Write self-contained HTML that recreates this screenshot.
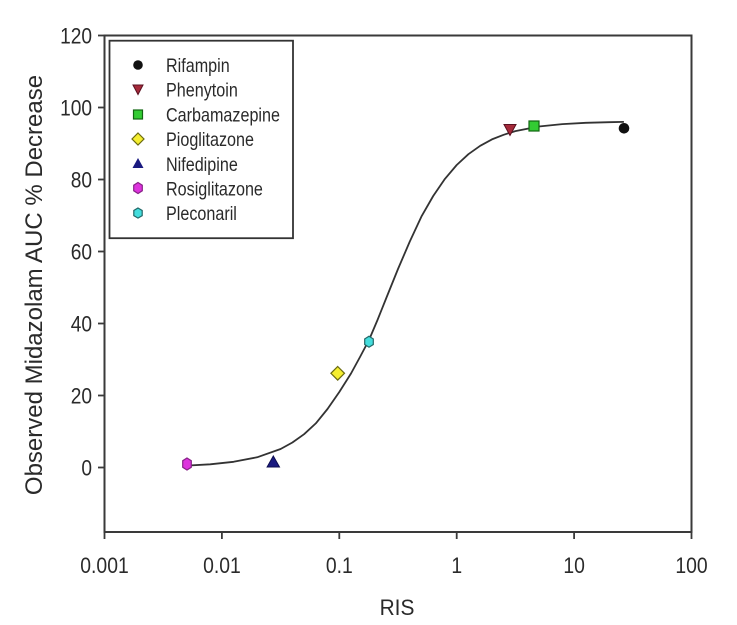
<!DOCTYPE html>
<html>
<head>
<meta charset="utf-8">
<style>
  html, body { margin: 0; padding: 0; background: #ffffff; }
  svg { display: block; }
  text { font-family: "Liberation Sans", Arial, sans-serif; fill: #2a2a2a; }
</style>
</head>
<body>
<svg width="737" height="625" viewBox="0 0 737 625" xmlns="http://www.w3.org/2000/svg">
  <rect x="0" y="0" width="737" height="625" fill="#ffffff"/>

  <!-- Plot frame -->
  <rect x="104.5" y="35.5" width="587" height="496.5" fill="none" stroke="#3a3a3a" stroke-width="2"/>

  <!-- Y ticks -->
  <g stroke="#3a3a3a" stroke-width="1.8">
    <line x1="98" y1="35.5" x2="104.5" y2="35.5"/>
    <line x1="98" y1="107.5" x2="104.5" y2="107.5"/>
    <line x1="98" y1="179.5" x2="104.5" y2="179.5"/>
    <line x1="98" y1="251.5" x2="104.5" y2="251.5"/>
    <line x1="98" y1="323.5" x2="104.5" y2="323.5"/>
    <line x1="98" y1="395.5" x2="104.5" y2="395.5"/>
    <line x1="98" y1="467.5" x2="104.5" y2="467.5"/>
  </g>
  <!-- X ticks -->
  <g stroke="#3a3a3a" stroke-width="1.8">
    <line x1="104.5" y1="532" x2="104.5" y2="539"/>
    <line x1="221.9" y1="532" x2="221.9" y2="539"/>
    <line x1="339.3" y1="532" x2="339.3" y2="539"/>
    <line x1="456.7" y1="532" x2="456.7" y2="539"/>
    <line x1="574.1" y1="532" x2="574.1" y2="539"/>
    <line x1="691.5" y1="532" x2="691.5" y2="539"/>
  </g>

  <!-- Y tick labels -->
  <g font-size="22" text-anchor="end">
    <text transform="translate(92,43.5) scale(0.87,1)">120</text>
    <text transform="translate(92,115.5) scale(0.87,1)">100</text>
    <text transform="translate(92,187.5) scale(0.87,1)">80</text>
    <text transform="translate(92,259.5) scale(0.87,1)">60</text>
    <text transform="translate(92,331.5) scale(0.87,1)">40</text>
    <text transform="translate(92,403.5) scale(0.87,1)">20</text>
    <text transform="translate(92,475.5) scale(0.87,1)">0</text>
  </g>

  <!-- X tick labels -->
  <g font-size="22" text-anchor="middle">
    <text transform="translate(104.5,573) scale(0.88,1)">0.001</text>
    <text transform="translate(221.9,573) scale(0.88,1)">0.01</text>
    <text transform="translate(339.3,573) scale(0.88,1)">0.1</text>
    <text transform="translate(456.7,573) scale(0.88,1)">1</text>
    <text transform="translate(574.1,573) scale(0.88,1)">10</text>
    <text transform="translate(691.5,573) scale(0.88,1)">100</text>
  </g>

  <!-- Axis titles -->
  <text transform="translate(397,615) scale(0.95,1)" font-size="22" text-anchor="middle">RIS</text>
  <text transform="translate(42,285) rotate(-90)" font-size="24" text-anchor="middle">Observed Midazolam AUC % Decrease</text>

  <!-- Fitted curve -->
  <polyline fill="none" stroke="#333333" stroke-width="1.8" stroke-linejoin="round"
    points="186.6,465.6 210.2,464.3 233.6,461.8 257.1,457.3 280.6,449.0 292.4,442.5 304.1,434.2 315.8,423.4 327.5,409 339.3,392 351,373.5 360,357 369,340 377.5,320 386.3,298 398,269 409.8,241.5 421.4,216.6 433.2,196.0 444.9,178.9 456.7,165.0 468.4,154.2 480.2,145.8 491.9,139.4 503.6,134.8 515.3,131.1 538.8,126.5 562.3,124.1 585.8,122.8 609.2,122.2 623.9,121.9"/>

  <!-- Data points -->
  <!-- Rosiglitazone -->
  <polygon points="187,458 191.3,460.7 191.3,467.3 187,470 182.7,467.3 182.7,460.7" fill="#dd33dd" stroke="#882288" stroke-width="1.2"/>
  <!-- Nifedipine -->
  <polygon points="273.3,456 279.5,467 267.1,467" fill="#1a1a80" stroke="#0d0d50" stroke-width="1"/>
  <!-- Pioglitazone -->
  <polygon points="337.7,366.5 344.5,373.3 337.7,380.1 330.9,373.3" fill="#f5ee30" stroke="#6b6b10" stroke-width="1.2"/>
  <!-- Pleconaril -->
  <polygon points="369,336.2 373.3,338.9 373.3,344.5 369,347.2 364.7,344.5 364.7,338.9" fill="#44dddd" stroke="#226868" stroke-width="1.2"/>
  <!-- Phenytoin -->
  <polygon points="504,124.5 516,124.5 510,135.5" fill="#a52a3a" stroke="#5a1020" stroke-width="1"/>
  <!-- Carbamazepine -->
  <rect x="529" y="121" width="10" height="10" fill="#33cc33" stroke="#116611" stroke-width="1.2"/>
  <!-- Rifampin -->
  <circle cx="624" cy="128.3" r="5.3" fill="#111111"/>

  <!-- Legend -->
  <rect x="109.5" y="40.7" width="183.5" height="197.5" fill="#ffffff" stroke="#333333" stroke-width="1.8"/>
  <!-- legend markers -->
  <circle cx="138" cy="65" r="4.8" fill="#111111"/>
  <polygon points="133,85 143,85 138,94.5" fill="#a52a3a" stroke="#5a1020" stroke-width="1"/>
  <rect x="133.5" y="110" width="9" height="9" fill="#33cc33" stroke="#116611" stroke-width="1.2"/>
  <polygon points="138,133 144,139 138,145 132,139" fill="#f5ee30" stroke="#6b6b10" stroke-width="1.2"/>
  <polygon points="138,158 143.5,168 132.5,168" fill="#1a1a80"/>
  <polygon points="138,182.5 142.3,185.2 142.3,190.8 138,193.5 133.7,190.8 133.7,185.2" fill="#dd33dd" stroke="#882288" stroke-width="1.2"/>
  <polygon points="138,208 142.2,210.5 142.2,215.6 138,218.1 133.8,215.6 133.8,210.5" fill="#44dddd" stroke="#226868" stroke-width="1.2"/>
  <!-- legend text -->
  <g font-size="19">
    <text transform="translate(166,72) scale(0.85,1)">Rifampin</text>
    <text transform="translate(166,96.7) scale(0.85,1)">Phenytoin</text>
    <text transform="translate(166,121.4) scale(0.85,1)">Carbamazepine</text>
    <text transform="translate(166,146.1) scale(0.85,1)">Pioglitazone</text>
    <text transform="translate(166,170.8) scale(0.85,1)">Nifedipine</text>
    <text transform="translate(166,195.5) scale(0.85,1)">Rosiglitazone</text>
    <text transform="translate(166,220.2) scale(0.85,1)">Pleconaril</text>
  </g>
</svg>
</body>
</html>
